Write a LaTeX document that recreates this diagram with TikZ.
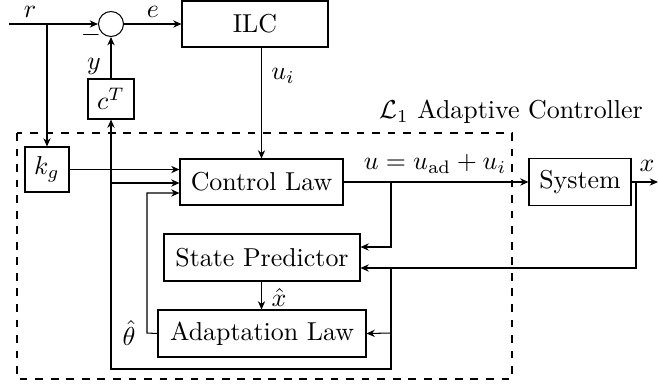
\documentclass[tikz,border=0pt]{standalone}
\usetikzlibrary{arrows.meta,calc}
\begin{document}
\begin{tikzpicture}[x=0.386pt,y=-0.386pt,
  blk/.style={draw,inner sep=0pt,anchor=center},
  arr/.style={-{Stealth[length=3.2pt,width=2.8pt]}},
  lbl/.style={inner sep=0pt,anchor=center}]
\useasboundingbox (0,0) rectangle (658,385);
% frame
\draw[dashed] (17,133) rectangle (512,379);
\node[lbl] (l1) at (511,112) {$\mathcal{L}_1$ Adaptive Controller};
% blocks
\node[blk,minimum width=146*0.386pt,minimum height=46*0.386pt] (ilc) at (255,24) {ILC};
\node[draw,circle,minimum size=25*0.386pt,inner sep=0pt] (sum) at (111,24) {};
\node[blk,minimum width=46*0.386pt,minimum height=40*0.386pt] (cT) at (111,99) {$c^T$};
\node[blk,minimum width=44*0.386pt,minimum height=45*0.386pt] (kg) at (47,169.5) {$k_g$};
\node[blk,minimum width=163*0.386pt,minimum height=46*0.386pt] (cl) at (261.5,182) {Control Law};
\node[blk,minimum width=196*0.386pt,minimum height=47*0.386pt] (sp) at (262,257.5) {State Predictor};
\node[blk,minimum width=208*0.386pt,minimum height=47*0.386pt] (al) at (262,333.5) {Adaptation Law};
\node[blk,minimum width=102*0.386pt,minimum height=47*0.386pt] (sys) at (580,182) {System};
% coordinates
\coordinate (in) at (9,24);
\coordinate (rj) at (47,24);
\coordinate (uj) at (391,182);
\coordinate (ub) at (391,247);
\coordinate (xj) at (636,182);
\coordinate (xo) at (658,182);
\coordinate (xb) at (636,268);
\coordinate (fj) at (391,268);
\coordinate (fa) at (391,333);
\coordinate (fbr) at (391,369);
\coordinate (fbl) at (111,369);
\coordinate (fc) at (111,183);
\coordinate (th) at (147,333);
\coordinate (tt) at (147,193);
% labels
\node[lbl] (rl) at (30,12) {$r$};
\node[lbl] (el) at (153,12) {$e$};
\node[lbl] (ml) at (91,35) {$-$};
\node[lbl] (yl) at (94,66) {$y$};
\node[lbl] (uil) at (283,76) {$u_i$};
\node[lbl] (ul) at (435,164) {$u=u_{\mathrm{ad}}+u_i$};
\node[lbl] (xl) at (647,166) {$x$};
\node[lbl] (xhl) at (279,297) {$\hat{x}$};
\node[lbl] (thl) at (129,333) {$\hat{\theta}$};
% connectors
\draw[arr] (in) -- (sum.west);
\draw[arr] (rj) -- (kg.north);
\draw[arr] (sum.east) -- (ilc.west);
\draw[arr] (cT.north) -- (sum.south);
\draw[arr] (cl.north |- ilc.south) -- (cl.north);
\draw[arr] (kg.east) -- (cl.west |- kg.east);
\draw[arr] (fc) -- (cl.west |- fc);
\draw[arr] (al.west) -- (th) -- (tt) -- (cl.west |- tt);
\draw[arr] (cl.east) -- (sys.west);
\draw[arr] (uj) -- (ub) -- (sp.east |- ub);
\draw[arr] (sys.east) -- (xo);
\draw[arr] (xj) -- (xb) -- (sp.east |- xb);
\draw[arr] (fj) -- (fbr) -- (fbl) -- (cT.south);
\draw[arr] (fa) -- (al.east);
\draw[arr] (sp.south -| cl.north) -- (al.north -| cl.north);
\end{tikzpicture}
\end{document}
